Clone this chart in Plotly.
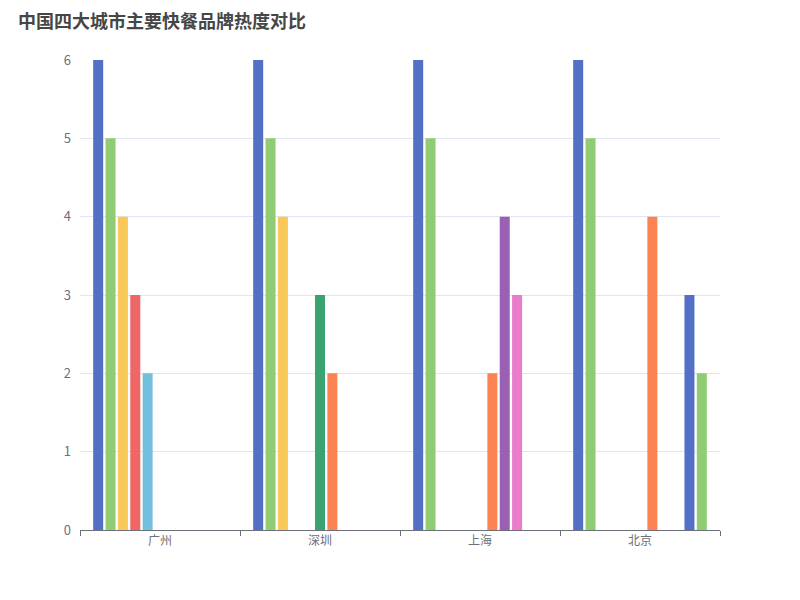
import plotly.graph_objects as go

# 城市
cities = ["广州", "深圳", "上海", "北京"]

# 品牌（系列）名称
brands = ["麦当劳", "肯德基", "汉堡王", "德克士", "华莱士", "真功夫",
          "必胜客", "赛百味", "老乡鸡", "乡村基", "永和大王"]

# 各品牌在每个城市的热度（None 表示无数据）
v_mcd = [6, 6, 6, 6]
v_kfc = [5, 5, 5, 5]
v_bk = [4, 4, None, None]
v_dks = [3, None, None, None]
v_wallace = [2, None, None, None]
v_zgf = [None, 3, None, None]
v_pizzahut = [None, 2, 2, 4]
v_subway = [None, None, 4, None]
v_lxj = [None, None, 3, None]
v_xcj = [None, None, None, 3]
v_yhdw = [None, None, None, 2]

values = [v_mcd, v_kfc, v_bk, v_dks, v_wallace, v_zgf,
          v_pizzahut, v_subway, v_lxj, v_xcj, v_yhdw]

# ECharts 默认配色
colors = ["#5470c6", "#91cc75", "#fac858", "#ee6666", "#73c0de", "#3ba272",
          "#fc8452", "#9a60b4", "#ea7ccc", "#5470c6", "#91cc75"]

fig = go.Figure()
for name, vals, c in zip(brands, values, colors):
    fig.add_trace(go.Bar(x=cities, y=vals, name=name, marker_color=c,
                         marker_line_width=0))

fig.update_layout(
    width=800, height=600,
    barmode="group", bargap=0.15, bargroupgap=0.19,
    plot_bgcolor="white", paper_bgcolor="white",
    showlegend=False,
    margin=dict(l=72, r=88, t=52, b=78),
    font=dict(family="Noto Sans CJK SC, sans-serif", size=12, color="#6E7079"),
)
# 标题放在左上角
fig.add_annotation(text="<b>中国四大城市主要快餐品牌热度对比</b>",
                   xref="paper", yref="paper", x=-0.1, y=1.085,
                   xanchor="left", yanchor="middle", showarrow=False,
                   font=dict(size=18, color="#464646"))
fig.update_xaxes(type="category", showline=True, linecolor="#6E7079", linewidth=1,
                 ticks="outside", tickson="boundaries", ticklen=5, tickcolor="#6E7079",
                 showgrid=False)
fig.update_yaxes(range=[0, 6], dtick=1, showgrid=True, gridcolor="#E0E6F1",
                 zeroline=False, showline=False, ticks="", ticklabelstandoff=8,
                 tickfont=dict(size=13))

fig.write_html("out.html")
